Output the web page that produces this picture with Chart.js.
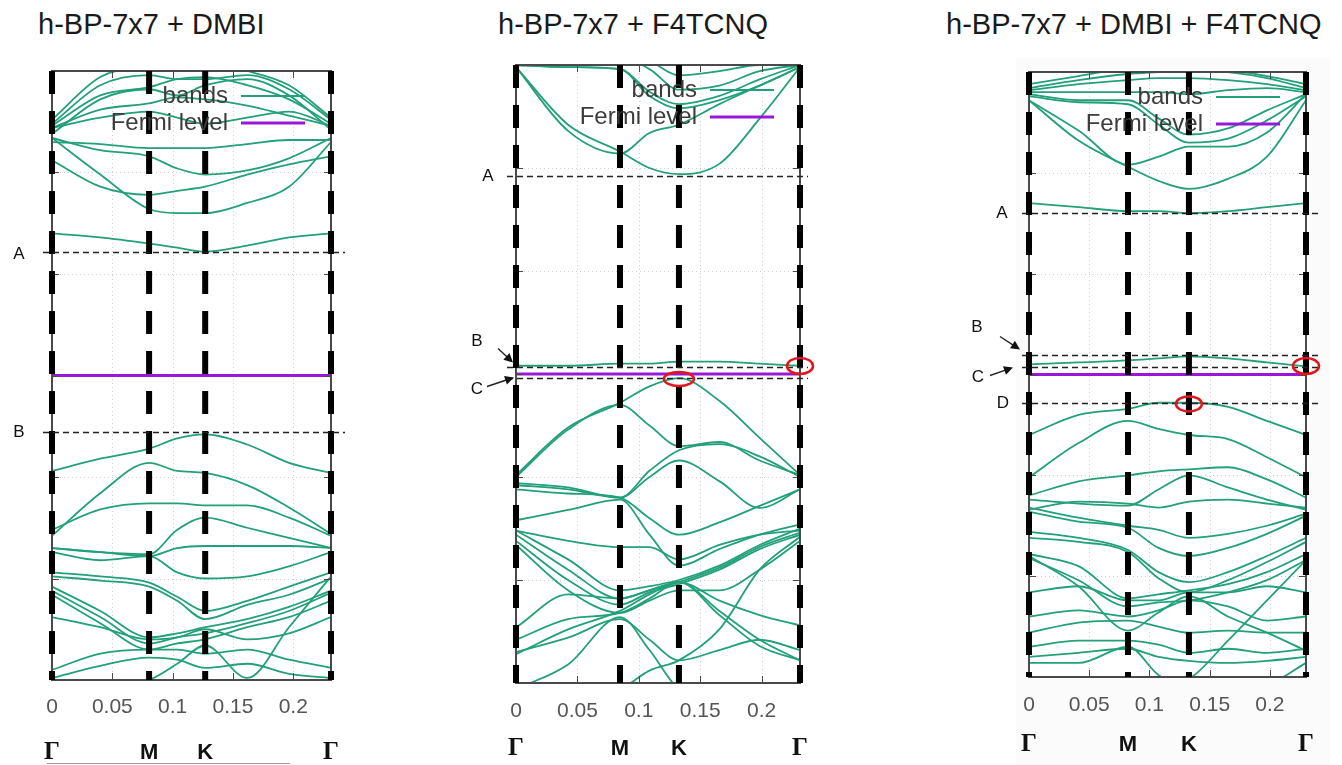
<!DOCTYPE html>
<html>
<head>
<meta charset="utf-8">
<script src="https://cdn.jsdelivr.net/npm/chart.js@4.4.0/dist/chart.umd.min.js"></script>
<style>
  html, body { margin: 0; padding: 0; background: #fff; }
  body { width: 1342px; height: 765px; position: relative; overflow: hidden;
         font-family: "Liberation Sans", Arial, sans-serif; }
  canvas { position: absolute; top: 0; }
  .title { position: absolute; top: 10px; font-size: 29px; line-height: 29px;
           color: #1a1a1a; white-space: nowrap; }
  .shade { position: absolute; left: 1016px; top: 58px; width: 314px; height: 707px; background: #fbfbfb; }
</style>
</head>
<body>
<div class="shade"></div>
<div class="title" style="left:38px">h-BP-7x7 + DMBI</div>
<div class="title" style="left:498px">h-BP-7x7 + F4TCNQ</div>
<div class="title" style="left:946px">h-BP-7x7 + DMBI + F4TCNQ</div>
<canvas id="cDMBI" width="360" height="765" style="left:0px"></canvas>
<canvas id="cF4" width="360" height="765" style="left:460px"></canvas>
<canvas id="cBoth" width="402" height="765" style="left:940px"></canvas>
<script>
// ---------- shared axis data ----------
const kTicks = [0, 0.05, 0.1, 0.15, 0.2];
const eTicks = [-1.5, -1, -0.5, 0, 0.5, 1, 1.5];
const symLabels = ['Γ', 'M', 'K', 'Γ'];
const legendLabels = ['bands', 'Fermi level'];

// ---------- h-BP-7x7 + DMBI ----------
const kSymDMBI = [0, 0.0805, 0.127, 0.2313];
const kPtsDMBI = [0, 0.040, 0.0805, 0.1038, 0.127, 0.1618, 0.1965, 0.2313];
const fermiDMBI = 0;
const bandsDMBI = [
  [0.70, 0.68, 0.65, 0.63, 0.61, 0.64, 0.68, 0.70],
  [1.17, 0.99, 0.82, 0.80, 0.80, 0.85, 0.93, 1.15],
  [1.06, 0.93, 0.89, 0.91, 0.93, 0.99, 1.04, 1.08],
  [1.17, 1.11, 1.08, 1.02, 0.99, 1.01, 1.07, 1.17],
  [1.15, 1.14, 1.12, 1.12, 1.12, 1.14, 1.16, 1.16],
  [1.22, 1.27, 1.30, 1.27, 1.24, 1.27, 1.30, 1.23],
  [1.22, 1.31, 1.34, 1.37, 1.36, 1.33, 1.28, 1.23],
  [1.23, 1.38, 1.42, 1.46, 1.47, 1.43, 1.36, 1.24],
  [1.24, 1.43, 1.48, 1.46, 1.46, 1.48, 1.41, 1.26],
  [1.26, 1.47, 1.53, 1.56, 1.54, 1.50, 1.43, 1.27],
  [1.19, 1.36, 1.41, 1.38, 1.43, 1.46, 1.38, 1.21],
  [-0.47, -0.41, -0.36, -0.31, -0.29, -0.34, -0.43, -0.48],
  [-0.79, -0.58, -0.43, -0.47, -0.48, -0.54, -0.65, -0.78],
  [-0.76, -0.66, -0.63, -0.63, -0.64, -0.64, -0.70, -0.79],
  [-0.85, -0.87, -0.88, -0.76, -0.70, -0.75, -0.80, -0.85],
  [-0.85, -0.87, -0.89, -0.85, -0.84, -0.84, -0.84, -0.85],
  [-0.87, -0.91, -0.89, -0.97, -1.00, -0.99, -0.94, -0.87],
  [-0.97, -0.99, -1.02, -1.09, -1.16, -1.11, -1.04, -0.97],
  [-0.99, -1.01, -1.04, -1.11, -1.20, -1.13, -1.08, -1.00],
  [-1.04, -1.16, -1.29, -1.27, -1.24, -1.20, -1.14, -1.06],
  [-1.06, -1.19, -1.32, -1.29, -1.27, -1.22, -1.16, -1.07],
  [-1.08, -1.22, -1.35, -1.32, -1.30, -1.24, -1.19, -1.11],
  [-1.19, -1.24, -1.30, -1.29, -1.25, -1.30, -1.27, -1.19],
  [-1.45, -1.37, -1.35, -1.35, -1.37, -1.35, -1.40, -1.44],
  [-1.49, -1.43, -1.39, -1.40, -1.44, -1.42, -1.47, -1.49],
  [-1.55, -1.55, -1.50, -1.42, -1.33, -1.49, -1.24, -0.99]
];
const refNamesDMBI = ['A', 'B'];
const refLevelsDMBI = [0.61, -0.28];
const markKDMBI = [];
const markEDMBI = [];

// ---------- h-BP-7x7 + F4TCNQ ----------
const kSymF4 = [0, 0.0847, 0.1327, 0.2313];
const kPtsF4 = [0, 0.0424, 0.0847, 0.1087, 0.1327, 0.1656, 0.1984, 0.2313];
const fermiF4 = 0;
const bandsF4 = [
  [1.49, 1.21, 1.08, 1.00, 0.97, 1.02, 1.24, 1.49],
  [1.49, 1.18, 1.07, 1.17, 1.21, 1.31, 1.40, 1.49],
  [1.50, 1.49, 1.48, 1.35, 1.29, 1.33, 1.40, 1.49],
  [1.50, 1.49, 1.48, 1.37, 1.31, 1.35, 1.43, 1.50],
  [1.50, 1.52, 1.54, 1.48, 1.38, 1.40, 1.47, 1.50],
  [1.50, 1.53, 1.56, 1.52, 1.45, 1.47, 1.50, 1.50],
  [0.04, 0.04, 0.05, 0.05, 0.06, 0.06, 0.05, 0.04],
  [-0.49, -0.26, -0.14, -0.06, -0.02, -0.13, -0.31, -0.49],
  [-0.50, -0.27, -0.15, -0.25, -0.35, -0.33, -0.42, -0.49],
  [-0.53, -0.55, -0.60, -0.50, -0.42, -0.52, -0.65, -0.56],
  [-0.54, -0.56, -0.60, -0.47, -0.37, -0.34, -0.40, -0.50],
  [-0.56, -0.58, -0.60, -0.70, -0.78, -0.72, -0.64, -0.56],
  [-0.71, -0.66, -0.61, -0.78, -0.93, -0.85, -0.78, -0.73],
  [-0.76, -0.81, -0.84, -0.84, -0.90, -0.83, -0.78, -0.76],
  [-0.76, -0.90, -1.05, -1.03, -1.00, -0.93, -0.83, -0.75],
  [-0.78, -0.95, -1.09, -1.05, -1.01, -0.94, -0.84, -0.77],
  [-0.81, -1.00, -1.12, -1.06, -1.02, -0.95, -0.85, -0.78],
  [-0.83, -1.05, -1.16, -1.10, -1.05, -1.05, -0.95, -0.81],
  [-1.23, -1.07, -1.09, -1.05, -1.01, -1.10, -1.17, -1.22],
  [-1.36, -1.24, -1.15, -1.07, -1.01, -1.15, -1.29, -1.39],
  [-1.53, -1.41, -1.18, -1.34, -1.53, -1.58, -1.58, -1.58],
  [-1.29, -1.19, -1.16, -1.09, -1.01, -1.17, -1.32, -1.39],
  [-1.58, -1.58, -1.53, -1.44, -1.39, -1.24, -0.95, -0.79],
  [-1.35, -1.28, -1.19, -1.29, -1.39, -1.34, -1.29, -1.34]
];
const refNamesF4 = ['A', 'B', 'C'];
const refLevelsF4 = [0.961, 0.034, -0.019];
const markKF4 = [0.1327, 0.2313];
const markEF4 = [-0.024, 0.039];

// ---------- h-BP-7x7 + DMBI + F4TCNQ ----------
const kSymBoth = [0, 0.0822, 0.1328, 0.2300];
const kPtsBoth = [0, 0.0411, 0.0822, 0.1075, 0.1328, 0.1652, 0.1976, 0.2300];
const fermiBoth = 0;
const bandsBoth = [
  [0.85, 0.83, 0.81, 0.81, 0.80, 0.81, 0.83, 0.85],
  [1.36, 1.16, 1.03, 0.96, 0.92, 0.97, 1.08, 1.36],
  [1.36, 1.21, 1.04, 1.08, 1.13, 1.13, 1.20, 1.39],
  [1.38, 1.35, 1.34, 1.24, 1.15, 1.17, 1.26, 1.38],
  [1.39, 1.36, 1.36, 1.27, 1.19, 1.22, 1.31, 1.39],
  [1.40, 1.40, 1.40, 1.40, 1.39, 1.41, 1.42, 1.40],
  [1.41, 1.44, 1.46, 1.47, 1.47, 1.46, 1.44, 1.41],
  [1.42, 1.46, 1.49, 1.50, 1.51, 1.50, 1.47, 1.42],
  [1.44, 1.48, 1.52, 1.53, 1.52, 1.51, 1.48, 1.44],
  [0.05, 0.06, 0.07, 0.08, 0.09, 0.08, 0.06, 0.04],
  [-0.30, -0.20, -0.17, -0.14, -0.14, -0.16, -0.23, -0.30],
  [-0.51, -0.34, -0.23, -0.27, -0.30, -0.32, -0.41, -0.51],
  [-0.60, -0.53, -0.50, -0.48, -0.47, -0.46, -0.52, -0.61],
  [-0.62, -0.64, -0.65, -0.57, -0.50, -0.56, -0.62, -0.67],
  [-0.67, -0.63, -0.64, -0.66, -0.63, -0.62, -0.64, -0.66],
  [-0.66, -0.71, -0.75, -0.77, -0.81, -0.79, -0.75, -0.69],
  [-0.68, -0.73, -0.76, -0.86, -0.90, -0.86, -0.79, -0.70],
  [-0.78, -0.81, -0.87, -0.98, -1.03, -0.98, -0.90, -0.81],
  [-0.81, -0.83, -0.88, -1.01, -1.08, -1.02, -0.93, -0.83],
  [-0.89, -0.95, -1.11, -1.09, -1.07, -1.04, -0.98, -0.89],
  [-0.91, -1.02, -1.15, -1.13, -1.12, -1.08, -1.02, -0.92],
  [-0.90, -1.05, -1.27, -1.18, -1.10, -1.20, -1.28, -1.37],
  [-1.08, -1.05, -1.12, -1.12, -1.08, -1.08, -1.05, -1.08],
  [-1.20, -1.17, -1.20, -1.17, -1.12, -1.15, -1.22, -1.20],
  [-1.28, -1.23, -1.22, -1.25, -1.28, -1.27, -1.28, -1.28],
  [-1.35, -1.32, -1.32, -1.34, -1.38, -1.36, -1.38, -1.36],
  [-1.40, -1.38, -1.36, -1.40, -1.42, -1.43, -1.42, -1.40],
  [-1.43, -1.43, -1.35, -1.49, -1.56, -1.56, -1.54, -1.43],
  [-1.56, -1.56, -1.51, -1.54, -1.51, -1.32, -1.12, -0.92]
];
const refNamesBoth = ['A', 'B', 'C', 'D'];
const refLevelsBoth = [0.80, 0.097, 0.037, -0.141];
const markKBoth = [0.2300, 0.1328];
const markEBoth = [0.042, -0.146];

// ---------- styling ----------
const FONT = '"Liberation Sans", Arial, sans-serif';
const SERIF = '"Liberation Serif", "Times New Roman", serif';
const BAND = '#22a07a';
const FERMI = '#9a16d8';

function bandDatasets(kPts, bands) {
  return bands.map(b => ({
    data: b.map((e, i) => ({ x: kPts[i], y: e })),
    borderColor: BAND, borderWidth: 1.8, pointRadius: 0,
    cubicInterpolationMode: 'monotone', fill: false, order: 1
  }));
}

function arrow(ctx, x1, y1, x2, y2) {
  const a = Math.atan2(y2 - y1, x2 - x1), L = 9, W = 4.5;
  ctx.beginPath(); ctx.moveTo(x1, y1);
  ctx.lineTo(x2 - L * 0.8 * Math.cos(a), y2 - L * 0.8 * Math.sin(a)); ctx.stroke();
  ctx.beginPath();
  ctx.moveTo(x2, y2);
  ctx.lineTo(x2 - L * Math.cos(a) + W * Math.sin(a), y2 - L * Math.sin(a) - W * Math.cos(a));
  ctx.lineTo(x2 - L * Math.cos(a) - W * Math.sin(a), y2 - L * Math.sin(a) + W * Math.cos(a));
  ctx.closePath(); ctx.fill();
}

// decorations drawn around the library's plot area
function decor(cfg) {
  return {
    id: 'decor',
    beforeDraw(chart) {
      const a = chart.chartArea, ctx = chart.ctx;
      ctx.save(); ctx.fillStyle = '#fff';
      ctx.fillRect(a.left, a.top, a.right - a.left, a.bottom - a.top);
      ctx.restore();
    },
    beforeDatasetsDraw(chart) {
      const a = chart.chartArea, ctx = chart.ctx;
      const xs = chart.scales.x, ys = chart.scales.y;
      ctx.save();
      ctx.strokeStyle = '#cfcfcf'; ctx.lineWidth = 1; ctx.setLineDash([1, 3]);
      kTicks.slice(1).forEach(v => {
        const px = Math.round(xs.getPixelForValue(v)) + 0.5;
        ctx.beginPath(); ctx.moveTo(px, a.top); ctx.lineTo(px, a.bottom); ctx.stroke();
      });
      eTicks.slice(1, -1).forEach(v => {
        const py = Math.round(ys.getPixelForValue(v)) + 0.5;
        ctx.beginPath(); ctx.moveTo(a.left, py); ctx.lineTo(a.right, py); ctx.stroke();
      });
      ctx.restore();
    },
    afterDatasetsDraw(chart) {
      const a = chart.chartArea, ctx = chart.ctx;
      const xs = chart.scales.x, ys = chart.scales.y;
      ctx.save();
      // frame and mirrored tick marks
      ctx.strokeStyle = '#4a4a4a'; ctx.lineWidth = 2;
      ctx.strokeRect(a.left, a.top, a.right - a.left, a.bottom - a.top);
      ctx.lineWidth = 1;
      kTicks.forEach(v => {
        const px = Math.round(xs.getPixelForValue(v)) + 0.5;
        ctx.beginPath(); ctx.moveTo(px, a.bottom); ctx.lineTo(px, a.bottom - 7);
        ctx.moveTo(px, a.top); ctx.lineTo(px, a.top + 7); ctx.stroke();
      });
      eTicks.forEach(v => {
        const py = Math.round(ys.getPixelForValue(v)) + 0.5;
        ctx.beginPath(); ctx.moveTo(a.left, py); ctx.lineTo(a.left + 7, py);
        ctx.moveTo(a.right, py); ctx.lineTo(a.right - 7, py); ctx.stroke();
      });
      // high-symmetry points
      ctx.strokeStyle = '#000'; ctx.lineWidth = 6; ctx.setLineDash([23, 17]);
      cfg.kSym.forEach(k => {
        const px = xs.getPixelForValue(k);
        ctx.beginPath(); ctx.moveTo(px, a.top); ctx.lineTo(px, a.bottom); ctx.stroke();
      });
      // reference levels
      ctx.strokeStyle = '#222';
      ctx.fillStyle = '#111'; ctx.font = '17px ' + FONT;
      ctx.textAlign = 'center'; ctx.textBaseline = 'middle';
      cfg.refNames.forEach((name, i) => {
        const py = Math.round(ys.getPixelForValue(cfg.refLevels[i])) + 0.5;
        ctx.setLineDash([6, 4]); ctx.lineWidth = 1.3;
        ctx.beginPath(); ctx.moveTo(a.left + cfg.ext[0], py); ctx.lineTo(a.right + cfg.ext[1], py); ctx.stroke();
        const s = cfg.labels[i];
        ctx.fillText(name, a.left + s.dx, py + s.dy);
        if (s.arrow) {
          ctx.setLineDash([]); ctx.lineWidth = 1.4;
          arrow(ctx, a.left + s.arrow[0], py + s.arrow[1], a.left + s.arrow[2], py + s.arrow[3]);
        }
      });
      // highlighted band edges
      ctx.setLineDash([]); ctx.strokeStyle = '#e3161c'; ctx.lineWidth = 2.5;
      cfg.markK.forEach((k, i) => {
        const cx = xs.getPixelForValue(k), cy = ys.getPixelForValue(cfg.markE[i]);
        ctx.beginPath(); ctx.ellipse(cx, cy, cfg.markR[i][0], cfg.markR[i][1], 0, 0, Math.PI * 2); ctx.stroke();
      });
      // key
      ctx.font = '24px ' + FONT; ctx.fillStyle = '#3c3c3c';
      ctx.textAlign = 'right'; ctx.textBaseline = 'middle';
      const rows = [a.top + 25, a.top + 52];
      const cols = [BAND, FERMI], widths = [2, 3];
      legendLabels.forEach((t, i) => {
        ctx.fillText(t, a.right - 103, rows[i]);
        ctx.strokeStyle = cols[i]; ctx.lineWidth = widths[i];
        ctx.beginPath(); ctx.moveTo(a.right - 90, rows[i]); ctx.lineTo(a.right - 26, rows[i]); ctx.stroke();
      });
      // path labels
      ctx.fillStyle = '#111'; ctx.textAlign = 'center';
      cfg.kSym.forEach((k, i) => {
        const px = xs.getPixelForValue(k);
        ctx.font = symLabels[i] === 'Γ' ? 'bold 25px ' + SERIF : 'bold 22px ' + FONT;
        ctx.fillText(symLabels[i], px, a.bottom + cfg.symDy);
      });
      if (cfg.underline) {
        ctx.strokeStyle = '#9a9a9a'; ctx.lineWidth = 1;
        ctx.beginPath(); ctx.moveTo(cfg.underline[0], cfg.underline[2] + 0.5);
        ctx.lineTo(cfg.underline[1], cfg.underline[2] + 0.5); ctx.stroke();
      }
      ctx.restore();
    }
  };
}

function makeChart(id, kSym, kPts, fermi, bands, pad, axisH, tickPad, cfg) {
  const datasets = [{
    data: [{ x: kSym[0], y: fermi }, { x: kSym[3], y: fermi }],
    borderColor: FERMI, borderWidth: 3, pointRadius: 0, fill: false, order: 0
  }].concat(bandDatasets(kPts, bands));
  cfg.kSym = kSym;
  return new Chart(document.getElementById(id), {
    type: 'line',
    data: { datasets },
    options: {
      responsive: false, animation: false, devicePixelRatio: 1,
      layout: { padding: { left: pad[0], right: pad[1], top: pad[2], bottom: 0 } },
      plugins: { legend: { display: false }, tooltip: { enabled: false } },
      events: [],
      scales: {
        x: {
          type: 'linear', min: 0, max: kSym[3],
          afterBuildTicks: s => { s.ticks = kTicks.map(v => ({ value: v })); },
          afterFit: s => { s.height = axisH; },
          grid: { display: false, drawTicks: false },
          border: { display: false },
          ticks: { padding: tickPad, color: '#555', font: { family: FONT, size: 21 },
                   maxRotation: 0, autoSkip: false, callback: v => String(v) }
        },
        y: {
          type: 'linear', min: eTicks[0], max: eTicks[eTicks.length - 1], display: false
        }
      }
    },
    plugins: [decor(cfg)]
  });
}

makeChart('cDMBI', kSymDMBI, kPtsDMBI, fermiDMBI, bandsDMBI, [52, 29, 71], 85, 15, {
  refNames: refNamesDMBI, refLevels: refLevelsDMBI, ext: [-9, 14],
  labels: [{ dx: -33, dy: 2 }, { dx: -33, dy: 0 }],
  markK: markKDMBI, markE: markEDMBI, markR: [],
  symDy: 73, underline: [47, 290, 763]
});

makeChart('cF4', kSymF4, kPtsF4, fermiF4, bandsF4, [56, 20, 65], 82, 16, {
  refNames: refNamesF4, refLevels: refLevelsF4, ext: [-9, 8],
  labels: [{ dx: -28, dy: 0 },
           { dx: -39, dy: -26, arrow: [-18, -19, -3, -5] },
           { dx: -39, dy: 11, arrow: [-29, 8, -2, -1] }],
  markK: markKF4, markE: markEF4, markR: [[15, 7], [13, 8]],
  symDy: 66
});

makeChart('cBoth', kSymBoth, kPtsBoth, fermiBoth, bandsBoth, [89, 36, 72], 88, 16, {
  refNames: refNamesBoth, refLevels: refLevelsBoth, ext: [-7, 16],
  labels: [{ dx: -27, dy: 0 },
           { dx: -52, dy: -28, arrow: [-29, -19, -9, -6] },
           { dx: -51, dy: 10, arrow: [-39, 8, -16, 0] },
           { dx: -26, dy: 0 }],
  markK: markKBoth, markE: markEBoth, markR: [[13, 8], [13, 7.5]],
  symDy: 68
});
</script>
</body>
</html>
